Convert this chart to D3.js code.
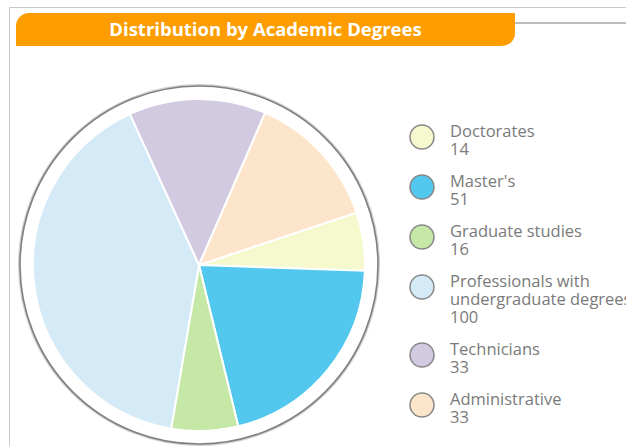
<!DOCTYPE html>
<html>
<head>
<meta charset="utf-8">
<script src="https://cdn.jsdelivr.net/npm/d3@7"></script>
<style>
  body { margin: 0; background: #fff; }
  svg { display: block; }
</style>
</head>
<body>
<div id="pie_chart"></div>
<script>
// chart data
const categories = ["Doctorates", "Master's", "Graduate studies", "Professionals with undergraduate degrees", "Technicians", "Administrative"];
const values = [14, 51, 16, 100, 33, 33];
const colors = ["#f6f8cd", "#53c8ee", "#c6e8a6", "#d5eaf7", "#d2cae0", "#fde5cc"];
// legend label lines
const labelLines = [["Doctorates"], ["Master's"], ["Graduate studies"], ["Professionals with", "undergraduate degrees"], ["Technicians"], ["Administrative"]];

const width = 626,
  height = 446,
  cx = 199,
  cy = 265,
  radius = 166,
  ringRadius = 179;

const svg = d3.select("#pie_chart")
  .append("svg")
  .attr("width", width)
  .attr("height", height)
  .attr("viewBox", [0, 0, width, height]);

// frame lines
svg.append("path")
  .attr("d", "M9.5,446 V7.5 H626")
  .attr("fill", "none")
  .attr("stroke", "#c8c8c8")
  .attr("stroke-width", 1);

svg.append("line")
  .attr("x1", 500).attr("x2", width)
  .attr("y1", 23).attr("y2", 23)
  .attr("stroke", "#bdbdbd")
  .attr("stroke-width", 2);

// title tab, rounded top-left and bottom-right
const tx0 = 16, ty0 = 13, tx1 = 515, ty1 = 46, r = 13;
const tab = d3.path();
tab.moveTo(tx0, ty1);
tab.lineTo(tx0, ty0 + r);
tab.arcTo(tx0, ty0, tx0 + r, ty0, r);
tab.lineTo(tx1, ty0);
tab.lineTo(tx1, ty1 - r);
tab.arcTo(tx1, ty1, tx1 - r, ty1, r);
tab.closePath();

svg.append("path")
  .attr("d", tab.toString())
  .attr("fill", "#fd9d00");

svg.append("text")
  .attr("x", (tx0 + tx1) / 2)
  .attr("y", 36)
  .attr("text-anchor", "middle")
  .attr("font-family", "'Open Sans', sans-serif")
  .attr("font-weight", "bold")
  .attr("font-size", 18.5)
  .attr("fill", "#fff")
  .text("Distribution by Academic Degrees");

// pie
const startAngle = 71.6 * Math.PI / 180;
const arcs = d3.pie()
  .sort(null)
  .startAngle(startAngle)
  .endAngle(startAngle + 2 * Math.PI)
  .value(d => d)(values);

const arc = d3.arc().innerRadius(0).outerRadius(radius);

const g = svg.append("g").attr("transform", `translate(${cx},${cy})`);

// outer ring with a soft shadow
g.append("circle")
  .attr("r", ringRadius + 1)
  .attr("fill", "none")
  .attr("stroke", "#d0d0d0")
  .attr("stroke-width", 2);

g.append("circle")
  .attr("r", ringRadius)
  .attr("fill", "none")
  .attr("stroke", "#808080")
  .attr("stroke-width", 1.6);

g.append("g")
  .attr("stroke", "white")
  .attr("stroke-width", 2)
  .attr("stroke-linejoin", "round")
  .selectAll("path")
  .data(arcs)
  .join("path")
  .attr("fill", (d, i) => colors[i])
  .attr("d", arc);

// legend
const lineH = 18;
let y = 137;
const legend = svg.append("g")
  .attr("font-family", "'Open Sans', sans-serif")
  .attr("font-size", 16.5)
  .attr("fill", "#7a7a7a");

categories.forEach((c, i) => {
  const item = legend.append("g");
  item.append("circle")
    .attr("cx", 422)
    .attr("cy", y)
    .attr("r", 12)
    .attr("fill", colors[i])
    .attr("stroke", "#888")
    .attr("stroke-width", 1.5);

  const lines = labelLines[i].concat([String(values[i])]);
  item.selectAll("text")
    .data(lines)
    .join("text")
    .attr("x", 450)
    .attr("y", (d, j) => y + j * lineH)
    .text(d => d);

  y += 50 + (labelLines[i].length - 1) * lineH;
});
</script>
</body>
</html>
